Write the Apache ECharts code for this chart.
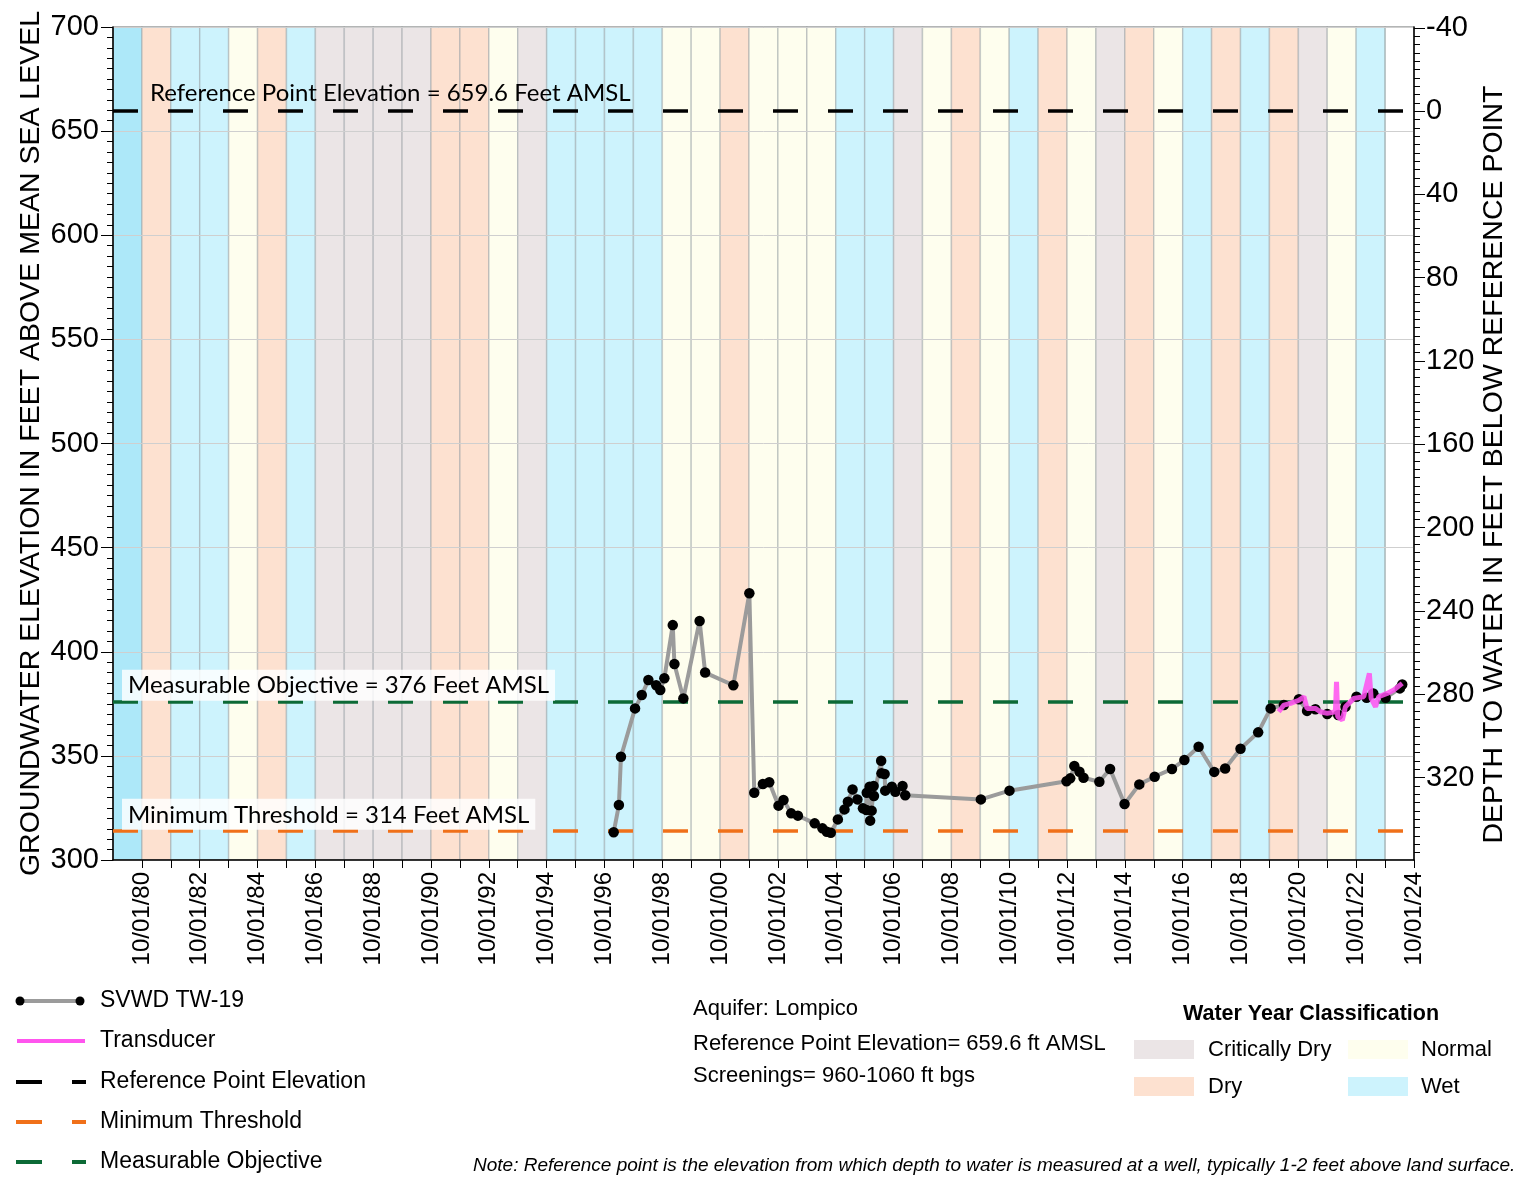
<!DOCTYPE html>
<html><head><meta charset="utf-8">
<script src="https://cdn.jsdelivr.net/npm/echarts@6/dist/echarts.min.js"></script>
<style>html,body{margin:0;padding:0;background:#fff}#c{width:1522px;height:1177px}</style>
</head><body><div id="c"></div>
<script>
const SANS = "'Liberation Sans',Arial,sans-serif";
const LBLFONT = "Lato,'Noto Sans',sans-serif";

// ---- Water year classification (water year N runs 10/01/(N-1) to 10/01/N) ----
const firstWaterYear = 1980;
const waterYearClass = [
  'Wet','Dry','Wet','Wet','Normal','Dry','Wet','Critically Dry','Critically Dry','Critically Dry',
  'Critically Dry','Dry','Dry','Normal','Critically Dry','Wet','Wet','Wet','Wet','Normal',
  'Normal','Dry','Normal','Normal','Normal','Wet','Wet','Critically Dry','Normal','Dry',
  'Normal','Wet','Dry','Normal','Critically Dry','Dry','Normal','Wet','Dry','Wet',
  'Dry','Critically Dry','Normal','Wet',''
];

// ---- SVWD TW-19 manual measurements (groundwater elevation, ft AMSL) ----
const svwdDates = [
  '1997-01-25','1997-04-01','1997-04-27','1997-10-22','1998-01-15','1998-04-08','1998-07-16','1998-09-05','1998-10-27',
  '1999-02-10','1999-03-03','1999-06-24','2000-01-15','2000-03-25','2001-03-17','2001-10-05','2001-12-06',
  '2002-03-25','2002-06-13','2002-10-08','2002-12-10','2003-03-17','2003-06-10','2004-01-08','2004-04-15',
  '2004-06-10','2004-07-30','2004-10-27','2005-01-19','2005-03-03','2005-05-01','2005-07-01','2005-09-09',
  '2005-10-23','2005-10-27','2005-12-02','2005-12-09','2005-12-28','2006-01-22','2006-01-26','2006-04-27',
  '2006-05-01','2006-06-10','2006-06-17','2006-09-09','2006-10-23','2007-01-22','2007-02-25',
  '2009-10-08','2010-10-04','2012-09-24','2012-11-10','2013-01-01','2013-03-07','2013-04-27','2013-11-13',
  '2014-03-28','2014-09-27','2015-04-01','2015-10-12','2016-05-18','2016-10-22','2017-04-20','2017-11-03',
  '2018-03-21','2018-10-01','2019-05-12','2019-10-16','2020-04-01','2020-10-08','2021-01-19','2021-05-04',
  '2021-10-01','2022-02-17','2022-05-19','2022-10-05','2023-02-10','2023-05-05','2023-10-08','2024-04-05','2024-05-05'
];
const svwdElev = [
  313.3,326.4,349.6,372.8,379.2,386.4,383.9,381.6,387.3,
  412.8,394.1,377.6,414.8,390.0,383.9,428.1,332.3,
  336.5,337.3,326.1,328.8,322.4,321.3,317.6,315.2,
  313.6,313.1,319.5,324.3,328.0,333.9,329.1,324.8,
  324.0,332.3,335.2,318.9,323.7,335.5,330.7,347.7,
  341.6,341.3,333.3,335.2,332.8,335.5,331.1,
  329.1,333.3,337.8,339.2,345.1,342.4,339.5,337.6,
  343.7,326.9,336.3,340.0,343.7,348.0,354.4,342.3,
  343.9,353.4,361.3,372.8,374.4,377.2,371.6,372.4,
  370.1,369.6,373.6,378.4,377.9,380.0,377.9,382.4,384.3
];

// ---- Transducer record ----
const transDates = [
  '2020-01-26','2020-04-01','2020-06-25','2020-10-08','2020-12-10','2021-01-19','2021-05-04','2021-07-05',
  '2021-10-01','2022-01-12','2022-01-26','2022-02-10','2022-04-09','2022-05-19','2022-09-02','2023-01-04',
  '2023-03-17','2023-04-08','2023-06-03','2023-07-12','2023-10-27','2024-01-19','2024-05-05'
];
const transElev = [
  371.2,374.4,375.2,376.7,378.4,372.8,372.8,371.2,
  370.4,371.2,385.6,368.8,367.2,373.6,377.6,378.4,
  389.6,377.6,373.6,378.4,380.0,381.6,384.8
];

// ---- Reference levels ----
const levelNames  = ['Reference Point Elevation','Measurable Objective','Minimum Threshold'];
const levelValues = [659.6, 376, 314];
const levelLabels = ['Reference Point Elevation = 659.6 Feet AMSL','Measurable Objective = 376 Feet AMSL','Minimum Threshold = 314 Feet AMSL'];

// ---- Axis ticks ----
const leftTickValues  = [300,350,400,450,500,550,600,650,700];
const rightTickValues = [-40,0,40,80,120,160,200,240,280,320];
const xTickLabels = ['10/01/80','10/01/82','10/01/84','10/01/86','10/01/88','10/01/90','10/01/92','10/01/94','10/01/96','10/01/98','10/01/00','10/01/02','10/01/04','10/01/06','10/01/08','10/01/10','10/01/12','10/01/14','10/01/16','10/01/18','10/01/20','10/01/22','10/01/24'];

// ---- styles ----
const classColor = {'Critically Dry':'#ebe5e6','Dry':'#fde1d0','Normal':'#fefeee','Wet':'#cdf3fd'};
const levelColor = ['#000000','#0c6a36','#f07019'];

const yMin = 300, yMax = 700;
const refElev = levelValues[0];

function decYear(s) {
  const p = s.split('-').map(Number);
  const start = Date.UTC(p[0], 0, 1), end = Date.UTC(p[0] + 1, 0, 1);
  return p[0] + (Date.UTC(p[0], p[1] - 1, p[2]) - start) / (end - start);
}
const wyStart = y => decYear(y + '-10-01');

const labelYear = t => { const yy = parseInt(t.slice(6), 10); return yy > 50 ? 1900 + yy : 2000 + yy; };
const labelByYear = {};
xTickLabels.forEach(t => { labelByYear[labelYear(t)] = t; });
const xLabelValues = xTickLabels.map(t => wyStart(labelYear(t)));
const yearTickValues = waterYearClass.map((c, i) => wyStart(firstWaterYear + i));
const xMin = wyStart(firstWaterYear - 1), xMax = wyStart(firstWaterYear + waterYearClass.length - 1);

const bandData = waterYearClass.map((c, i) => [
  { xAxis: wyStart(firstWaterYear - 1 + i),
    itemStyle: { color: i === 0 ? '#ade8f9' : (c ? classColor[c] : 'rgba(255,255,255,0)') } },
  { xAxis: wyStart(firstWaterYear + i) }
]);

const rightMinor = [];
for (let v = -40; v <= 356; v += 4) rightMinor.push(v);

const svwdData = svwdDates.map((d, i) => [decYear(d), svwdElev[i]]);
const transData = transDates.map((d, i) => [decYear(d), transElev[i]]);

const levelSeries = levelNames.map((n, i) => ({
  type: 'line', name: n, data: [], z: 3, silent: true,
  markLine: {
    silent: true, symbol: 'none', animation: false, z: 3,
    lineStyle: { color: levelColor[i], width: 3.5, type: [25, 30], opacity: 1 },
    label: {
      show: true, position: 'insideStartTop', formatter: levelLabels[i],
      color: '#000', fontFamily: LBLFONT, fontSize: 24,
      distance: i === 0 ? [37, 6] : [9, 1],
      backgroundColor: i === 0 ? 'transparent' : 'rgba(255,255,255,0.82)',
      padding: i === 0 ? 0 : [4, 6, 3, 6]
    },
    data: [{ yAxis: levelValues[i] }]
  }
}));

const chart = echarts.init(document.getElementById('c'), null, { renderer: 'canvas' });

const legendRows = [1001, 1041, 1082, 1122, 1162];
const txt = (x, y, s, size, extra) => ({
  type: 'text', x: x, y: y,
  style: Object.assign({ text: s, fill: '#000', fontFamily: SANS, fontSize: size, verticalAlign: 'middle', align: 'left' }, extra || {})
});
const ln = (x1, y1, x2, y2, color, w) => ({ type: 'line', shape: { x1, y1, x2, y2 }, style: { stroke: color, lineWidth: w } });

const graphics = [
  ln(20, legendRows[0], 80, legendRows[0], '#9b9b9b', 4),
  { type: 'circle', shape: { cx: 20, cy: legendRows[0], r: 4.5 }, style: { fill: '#000' } },
  { type: 'circle', shape: { cx: 80, cy: legendRows[0], r: 4.5 }, style: { fill: '#000' } },
  txt(100, legendRows[0], 'SVWD TW-19', 23),
  ln(17, legendRows[1], 85, legendRows[1], '#ff55ee', 4),
  txt(100, legendRows[1], 'Transducer', 23),
  ln(16, legendRows[2], 42, legendRows[2], levelColor[0], 4), ln(72, legendRows[2], 86, legendRows[2], levelColor[0], 4),
  txt(100, legendRows[2], 'Reference Point Elevation', 23),
  ln(16, legendRows[3], 42, legendRows[3], levelColor[2], 4), ln(72, legendRows[3], 86, legendRows[3], levelColor[2], 4),
  txt(100, legendRows[3], 'Minimum Threshold', 23),
  ln(16, legendRows[4], 42, legendRows[4], levelColor[1], 4), ln(72, legendRows[4], 86, legendRows[4], levelColor[1], 4),
  txt(100, legendRows[4], 'Measurable Objective', 23),
  txt(693, 1009, 'Aquifer: Lompico', 22),
  txt(693, 1044, 'Reference Point Elevation= 659.6 ft AMSL', 22),
  txt(693, 1076, 'Screenings= 960-1060 ft bgs', 22),
  txt(1311, 1014, 'Water Year Classification', 21.5, { fontWeight: 'bold', align: 'center' }),
  { type: 'rect', shape: { x: 1134, y: 1040, width: 60, height: 19 }, style: { fill: classColor['Critically Dry'] } },
  txt(1208, 1050, 'Critically Dry', 22),
  { type: 'rect', shape: { x: 1348, y: 1040, width: 60, height: 19 }, style: { fill: classColor['Normal'] } },
  txt(1421, 1050, 'Normal', 22),
  { type: 'rect', shape: { x: 1134, y: 1077, width: 60, height: 19 }, style: { fill: classColor['Dry'] } },
  txt(1208, 1087, 'Dry', 22),
  { type: 'rect', shape: { x: 1348, y: 1077, width: 60, height: 19 }, style: { fill: classColor['Wet'] } },
  txt(1421, 1087, 'Wet', 22),
  txt(473, 1166, 'Note: Reference point is the elevation from which depth to water is measured at a well, typically 1-2 feet above land surface.', 19, { fontStyle: 'italic' })
];

chart.setOption({
  animation: false,
  backgroundColor: '#fff',
  grid: { left: 113, right: 108, top: 27, bottom: 317, outerBoundsMode: 'none', containLabel: false, show: true, borderColor: '#8a8a8a', borderWidth: 1, backgroundColor: 'transparent' },
  xAxis: {
    type: 'value', min: xMin, max: xMax,
    axisLine: { show: true, onZero: false, lineStyle: { color: '#000', width: 1.5 } },
    axisTick: { show: true, customValues: yearTickValues, length: 8, lineStyle: { color: '#000', width: 1 } },
    axisLabel: {
      customValues: xLabelValues, rotate: 90, margin: 12,
      fontFamily: SANS, fontSize: 24, color: '#000',
      formatter: v => labelByYear[Math.round(v - 0.75)] || ''
    },
    splitLine: { show: false }
  },
  yAxis: [
    {
      type: 'value', position: 'left', min: yMin, max: yMax, interval: 50,
      name: 'GROUNDWATER ELEVATION IN FEET ABOVE MEAN SEA LEVEL', nameLocation: 'middle', nameGap: 67, nameMoveOverlap: false,
      nameTextStyle: { fontFamily: SANS, fontSize: 28.5, color: '#000' },
      axisLine: { show: true, onZero: false, lineStyle: { color: '#000', width: 1.5 } },
      axisTick: { show: true, length: 12, lineStyle: { color: '#000' } },
      minorTick: { show: true, splitNumber: 10, length: 6, lineStyle: { color: '#000' } },
      axisLabel: { customValues: leftTickValues, fontFamily: SANS, fontSize: 29, color: '#000', margin: 14 },
      splitLine: { show: true, lineStyle: { color: '#cfcfcf', width: 1 } }
    },
    {
      type: 'value', position: 'right', inverse: true,
      min: refElev - yMax, max: refElev - yMin,
      name: 'DEPTH TO WATER IN FEET BELOW REFERENCE POINT', nameLocation: 'middle', nameGap: 66, nameMoveOverlap: false,
      nameTextStyle: { fontFamily: SANS, fontSize: 28.5, color: '#000', padding: [0, 42, 0, 0] },
      axisLine: { show: true, onZero: false, lineStyle: { color: '#000', width: 1.5 } },
      axisTick: { show: true, length: 11, customValues: rightTickValues, lineStyle: { color: '#000' } },
      axisLabel: { customValues: rightTickValues, fontFamily: SANS, fontSize: 29, color: '#000', margin: 12 },
      splitLine: { show: false }
    },
    {
      type: 'value', position: 'right', inverse: true,
      min: refElev - yMax, max: refElev - yMin,
      axisLine: { show: false, onZero: false },
      axisTick: { show: true, length: 6, customValues: rightMinor, lineStyle: { color: '#000' } },
      axisLabel: { show: false },
      splitLine: { show: false }
    }
  ],
  series: [
    {
      type: 'line', name: 'Water Year', data: [], z: -1, silent: true,
      markArea: { silent: true, animation: false, z: -1, itemStyle: { borderColor: 'rgba(150,160,165,0.45)', borderWidth: 1.5 }, data: bandData }
    },
    ...levelSeries,
    {
      type: 'line', name: 'SVWD TW-19', data: svwdData, z: 5,
      symbol: 'circle', symbolSize: 10.5, showAllSymbol: true,
      itemStyle: { color: '#000' },
      lineStyle: { color: '#9b9b9b', width: 4 }
    },
    {
      type: 'line', name: 'Transducer', data: transData, z: 6,
      symbol: 'none',
      lineStyle: { color: '#ff4ff0', width: 5, opacity: 0.85 }
    }
  ],
  graphic: graphics
});
</script></body></html>
